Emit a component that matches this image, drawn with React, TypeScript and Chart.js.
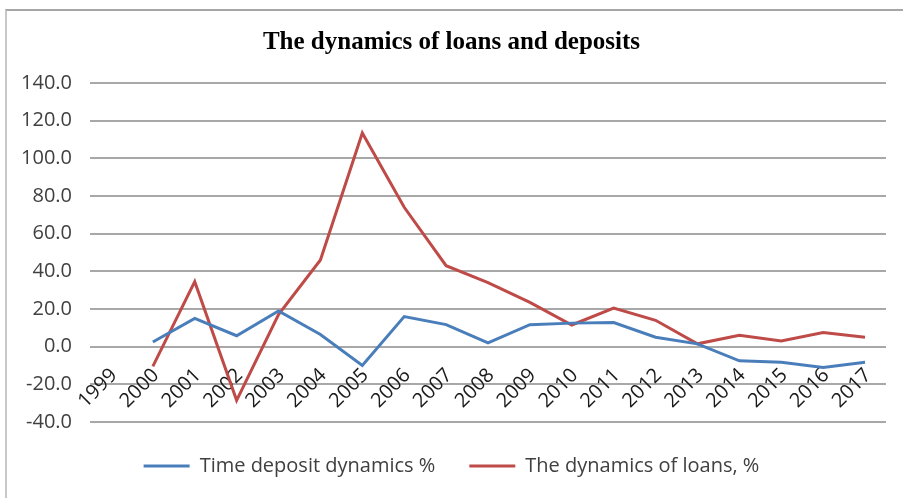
import React, { useEffect, useRef } from "react";
import { Chart, registerables } from "chart.js";

Chart.register(...registerables);

const years = ["1999","2000","2001","2002","2003","2004","2005","2006","2007","2008","2009","2010","2011","2012","2013","2014","2015","2016","2017"];
const timeDeposit = [null, 2.5, 15, 5.8, 19, 6.5, -10, 16, 11.7, 2, 11.7, 12.5, 12.8, 5, 1.5, -7.5, -8.3, -11, -8.3];
const loans = [null, -10.5, 34.5, -28.5, 17, 46, 113.5, 74, 43, 34, 23.5, 11.5, 20.5, 14, 1.5, 6, 3, 7.5, 5];
const yTicks = { min: -40, max: 140, step: 20 };

export default function App() {
  const ref = useRef<HTMLCanvasElement>(null);
  useEffect(() => {
    if (!ref.current) return;
    const font = { family: "'Open Sans', sans-serif", size: 20 };
    const chart = new Chart(ref.current, {
      type: "line",
      data: {
        labels: years,
        datasets: [
          { label: "Time deposit dynamics %", data: timeDeposit, borderColor: "#4a7ebb", backgroundColor: "#4a7ebb", borderWidth: 3, pointRadius: 0, tension: 0 },
          { label: "The dynamics of loans, %", data: loans, borderColor: "#be4b48", backgroundColor: "#be4b48", borderWidth: 3, pointRadius: 0, tension: 0 },
        ],
      },
      options: {
        responsive: false,
        animation: false,
        layout: { padding: { left: 0, right: 0, top: 0, bottom: 12 } },
        plugins: {
          title: {
            display: true,
            text: "The dynamics of loans and deposits",
            color: "#000",
            font: { family: "'Liberation Serif', 'Times New Roman', serif", size: 25, weight: "bold" },
            padding: { top: 28, bottom: 25 },
          },
          legend: {
            position: "bottom",
            labels: {
              usePointStyle: true,
              pointStyle: "line",
              pointStyleWidth: 46,
              boxHeight: 3,
              padding: 34,
              color: "#404040",
              font,
            },
          },
          tooltip: { enabled: false },
        },
        scales: {
          x: {
            type: "category",
            offset: true,
            position: { y: 0 } as any,
            grid: { display: false, drawTicks: false },
            border: { display: false },
            ticks: { autoSkip: false, minRotation: 45, maxRotation: 45, color: "#1a1a1a", font, padding: 17, labelOffset: 3 },
          },
          y: {
            min: yTicks.min,
            max: yTicks.max,
            afterFit: (s: any) => { s.width = 90; },
            grid: { color: "#a8a8a8", lineWidth: 2, drawTicks: false },
            border: { display: false },
            ticks: { stepSize: yTicks.step, padding: 18, color: "#404040", font, callback: (v: any) => Number(v).toFixed(1) },
          },
          y2: {
            position: "right",
            display: true,
            afterFit: (s: any) => { s.width = 17; },
            grid: { display: false, drawTicks: false },
            border: { display: false },
            ticks: { display: false },
          },
        },
      },
    });
    return () => chart.destroy();
  }, []);
  return (
    <div style={{ position: "absolute", left: 0, top: 0, width: 903, height: 498, background: "#fff", overflow: "hidden" }}>
      <div style={{ position: "absolute", left: 5, top: 9, right: 0, bottom: 0, borderTop: "2px solid #a6a6a6", borderLeft: "2px solid #c8c8c8" }} />
      <canvas ref={ref} width={903} height={498} style={{ position: "absolute", left: 0, top: 0 }} />
    </div>
  );
}
